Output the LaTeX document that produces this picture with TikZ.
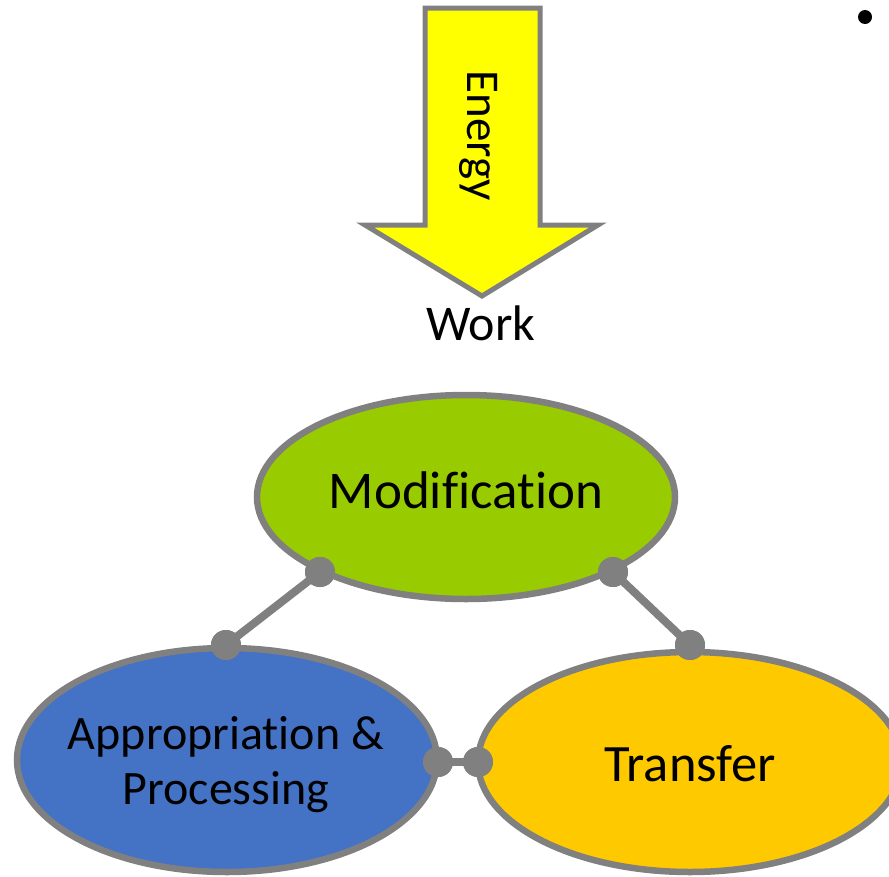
\documentclass[tikz,border=0pt]{standalone}
\usepackage{fontspec}
\setmainfont[Ligatures={NoCommon}]{Carlito}
\usetikzlibrary{shapes.geometric}
\definecolor{edgegray}{HTML}{808080}
\definecolor{modgreen}{HTML}{99CC00}
\definecolor{appblue}{HTML}{4472C4}
\definecolor{trgold}{HTML}{FFC900}
\definecolor{arrowyellow}{HTML}{FFFF00}
\tikzset{
  blob/.style={ellipse, draw=edgegray, line width=6.5pt, inner sep=0pt},
  blobtext/.style={inner sep=0pt, align=center},
  dotnode/.style={circle, fill=edgegray, minimum size=30pt, inner sep=0pt},
  conn/.style={draw=edgegray, line width=8pt},
}
\begin{document}
\begin{tikzpicture}[x=1pt,y=-1pt]
\useasboundingbox (0,0) rectangle (889,876);
\begin{scope}
\clip (0,0) rectangle (889,876);
% arrow
\draw[fill=arrowyellow, draw=edgegray, line width=5pt, line join=miter]
  (425,8) -- (540,8) -- (540,225) -- (598,225) -- (482,296) -- (365,225) -- (425,225) -- cycle;
\node[rotate=-90, anchor=base, inner sep=0pt, font=\fontsize{47}{56}\selectfont] (energy) at (467,136) {Energy};
\node[anchor=base, inner sep=0pt, font=\fontsize{50}{60}\selectfont] (work) at (481,340) {Work};
% ellipses
\node[blob, fill=modgreen, minimum width=418pt, minimum height=204pt] (mod) at (466,497) {};
\node[blob, fill=appblue, minimum width=420pt, minimum height=224pt] (app) at (227,760) {};
\node[blob, fill=trgold, minimum width=424pt, minimum height=220pt] (tr) at (690,762) {};
\node[blobtext, font=\fontsize{53}{60}\selectfont] (modtext) at (466,490) {Modification};
\node[blobtext, font=\fontsize{48}{55}\selectfont] (apptext) at (226,765) {Appropriation \&\\Processing};
\node[blobtext, font=\fontsize{52.5}{60}\selectfont] (trtext) at (690,764) {Transfer};
% connectors
\node[dotnode] (d1) at (320,572) {};
\node[dotnode] (d2) at (226,645) {};
\node[dotnode] (d3) at (613,572) {};
\node[dotnode] (d4) at (690,645) {};
\node[dotnode] (d5) at (438,762) {};
\node[dotnode] (d6) at (478,762) {};
\draw[conn] (d1.center) -- (d2.center);
\draw[conn] (d3.center) -- (d4.center);
\draw[conn] (d5.center) -- (d6.center);
\node[dotnode] at (d1) {};
\node[dotnode] at (d2) {};
\node[dotnode] at (d3) {};
\node[dotnode] at (d4) {};
\node[dotnode] at (d5) {};
\node[dotnode] at (d6) {};
% bullet
\node[circle, fill=black, minimum size=14pt, inner sep=0pt] (bullet) at (865,17) {};
\end{scope}
\end{tikzpicture}
\end{document}
